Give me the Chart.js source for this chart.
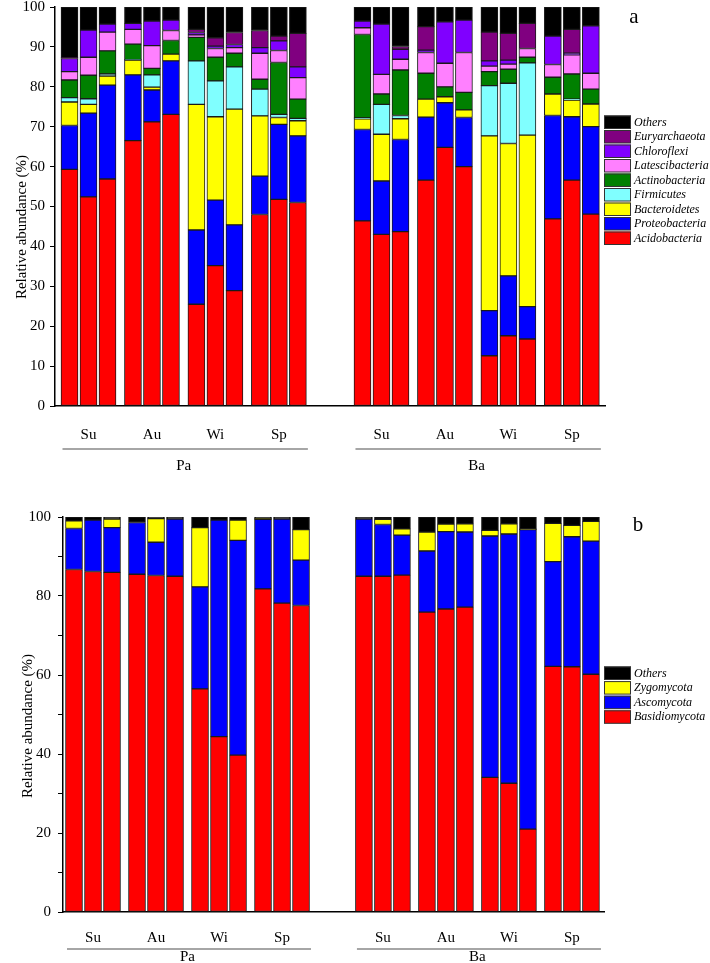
<!DOCTYPE html>
<html>
<head>
<meta charset="utf-8">
<script src="https://cdn.jsdelivr.net/npm/chart.js@4.4.1/dist/chart.umd.min.js"></script>
<style>
    html, body { margin: 0; padding: 0; background: #fff; }
    .panel { position: absolute; left: 0; width: 710px; }
    #panelA { top: 0; height: 490px; }
    #panelB { top: 490px; height: 473px; }
</style>
</head>
<body>
<div class="panel" id="panelA"><canvas id="chartA" width="710" height="490"></canvas></div>
<div class="panel" id="panelB"><canvas id="chartB" width="710" height="473"></canvas></div>
<script>
// =============================================
// Data (relative abundance, %)
// order of each array: Pa Su1-3, Au1-3, Wi1-3, Sp1-3, Ba Su1-3, Au1-3, Wi1-3, Sp1-3
// =============================================
const GROUPS = ['Pa', 'Ba'];
const SEASONS = ['Su', 'Au', 'Wi', 'Sp'];
const REPLICATES = 3;

// (a) bacteria
const acidobacteria   = [59.3, 52.4, 56.9, 66.5, 71.2, 73.1, 25.5, 35.2, 28.9, 48.0, 51.8, 51.0, 46.4, 43.0, 43.7, 56.6, 64.8, 60.0, 12.6, 17.6, 16.8, 46.9, 56.6, 48.1];
const proteobacteria  = [11.0, 21.0, 23.5, 16.5, 8.0, 13.4, 18.6, 16.4, 16.5, 9.6, 18.8, 16.7, 22.9, 13.4, 23.1, 15.8, 11.2, 12.3, 11.3, 15.0, 8.1, 25.9, 15.9, 21.9];
const bacteroidetes   = [5.9, 2.2, 2.3, 3.7, 0.7, 1.7, 31.5, 20.9, 29.0, 15.1, 1.7, 3.8, 2.7, 11.7, 5.2, 4.5, 1.5, 1.9, 43.8, 33.2, 43.0, 5.4, 4.2, 5.7];
const firmicutes      = [1.1, 1.4, 0.5, 0.1, 3.1, 0, 10.9, 9.0, 10.6, 6.7, 0.8, 0.6, 0.2, 7.5, 0.8, 0, 0, 0, 12.6, 15.1, 18.1, 0, 0.2, 0];
const actinobacteria  = [4.4, 5.9, 5.8, 3.9, 1.6, 3.4, 5.9, 5.9, 3.4, 2.5, 13.0, 4.8, 20.9, 2.6, 11.4, 6.5, 2.5, 4.4, 3.5, 3.5, 1.4, 4.2, 6.3, 3.7];
const latescibacteria = [2.1, 4.5, 4.7, 3.7, 5.7, 2.5, 0.6, 2.2, 1.4, 6.5, 3.0, 5.4, 1.7, 4.9, 2.7, 5.2, 5.9, 10.0, 1.4, 1.3, 2.2, 3.2, 4.8, 4.0];
const chloroflexi     = [3.3, 6.8, 2.0, 1.5, 6.2, 2.6, 0.6, 0.6, 0.8, 1.4, 2.4, 2.7, 1.7, 12.6, 2.5, 0.6, 10.4, 8.1, 1.3, 1.0, 0, 7.1, 0.4, 11.9];
const euryarchaeota   = [0.2, 0, 0, 0, 0, 0, 0.8, 2.1, 3.0, 4.3, 1.2, 8.4, 0, 0, 0.7, 5.9, 0, 0, 7.2, 6.7, 6.3, 0, 6.0, 0];
const bacteriaOthers  = [12.7, 5.8, 4.3, 4.1, 3.5, 3.3, 5.6, 7.7, 6.4, 5.9, 7.3, 6.6, 3.5, 4.3, 9.9, 4.9, 3.7, 3.3, 6.3, 6.6, 4.1, 7.3, 5.6, 4.7];

// (b) fungi
const basidiomycota = [86.7, 86.2, 86.0, 85.5, 85.2, 85.0, 56.5, 44.4, 39.7, 81.8, 78.2, 77.6, 85.0, 85.0, 85.3, 75.9, 76.7, 77.2, 34.1, 32.6, 21.0, 62.2, 62.1, 60.2];
const ascomycota    = [10.4, 13.0, 11.3, 13.1, 8.4, 14.5, 25.8, 54.8, 54.4, 17.6, 21.3, 11.5, 14.5, 13.1, 10.1, 15.5, 19.6, 19.0, 61.1, 63.1, 75.8, 26.5, 32.9, 33.7];
const zygomycota    = [1.9, 0, 2.2, 0, 6.0, 0, 15.0, 0, 5.1, 0.2, 0, 7.7, 0, 1.3, 1.6, 4.8, 1.9, 2.1, 1.4, 2.6, 0.2, 9.7, 2.9, 5.0];
const fungiOthers   = [1.0, 0.8, 0.5, 1.4, 0.4, 0.5, 2.7, 0.8, 0.8, 0.4, 0.5, 3.2, 0.5, 0.6, 3.0, 3.8, 1.8, 1.7, 3.4, 1.7, 3.0, 1.6, 2.1, 1.1];

const bacteriaSeries = [
    ['Acidobacteria', acidobacteria, '#ff0000'],
    ['Proteobacteria', proteobacteria, '#0000ff'],
    ['Bacteroidetes', bacteroidetes, '#ffff00'],
    ['Firmicutes', firmicutes, '#80ffff'],
    ['Actinobacteria', actinobacteria, '#008000'],
    ['Latescibacteria', latescibacteria, '#ff80ff'],
    ['Chloroflexi', chloroflexi, '#8000ff'],
    ['Euryarchaeota', euryarchaeota, '#800080'],
    ['Others', bacteriaOthers, '#000000']
];
const fungiSeries = [
    ['Basidiomycota', basidiomycota, '#ff0000'],
    ['Ascomycota', ascomycota, '#0000ff'],
    ['Zygomycota', zygomycota, '#ffff00'],
    ['Others', fungiOthers, '#000000']
];

// =============================================
// Layout of each panel (pixels in its own canvas)
// =============================================
const layoutA = {
    letter: 'a', height: 490, axisX: 55, top: 7, bottom: 406, right: 605,
    firstCenter: 69.5, pitch: 19, seasonStep: 3.34, groupStep: 15.42,
    minorStep: 5, majorStep: 10, tickPad: 5, labelPad: 20,
    titleX: 22, titleY: 227, lineY: 449, groupY: 466,
    legendY: 122, legendStep: 14.5, letterX: 634, letterY: 17
};
const layoutB = {
    letter: 'b', height: 473, axisX: 63, top: 27, bottom: 422, right: 604,
    firstCenter: 74, pitch: 19, seasonStep: 3.316, groupStep: 15.26,
    minorStep: 10, majorStep: 20, tickPad: 7, labelPad: 17,
    titleX: 28, titleY: 236, lineY: 459, groupY: 467,
    legendY: 183, legendStep: 14.6, letterX: 638, letterY: 35
};

const SERIF = "'Liberation Serif', 'Times New Roman', serif";

const barPos = (L, g, s, r) => g * L.groupStep + s * L.seasonStep + r;

const makePanel = (canvasId, series, L) => {
    const positions = [];
    const seasonCenters = [];
    GROUPS.forEach((g, gi) => SEASONS.forEach((s, si) => {
        for (let r = 0; r < REPLICATES; r++) positions.push(barPos(L, gi, si, r));
        seasonCenters.push(barPos(L, gi, si, 1));
    }));

    const datasets = series.map(([label, values, color]) => ({
        label,
        data: values.map((v, i) => ({ x: positions[i], y: v })),
        backgroundColor: color,
        borderColor: '#1a1a1a',
        borderWidth: 1,
        borderSkipped: false,
        barThickness: 17
    }));

    // y title, group labels, legend, panel letter
    const decor = {
        id: 'decor',
        afterDraw(chart) {
            const ctx = chart.ctx;
            const xs = chart.scales.x;
            ctx.save();
            ctx.fillStyle = '#000';
            ctx.font = `15px ${SERIF}`;
            ctx.textAlign = 'center';
            ctx.textBaseline = 'middle';

            ctx.save();
            ctx.translate(L.titleX, L.titleY);
            ctx.rotate(-Math.PI / 2);
            ctx.fillText('Relative abundance (%)', 0, 0);
            ctx.restore();

            GROUPS.forEach((g, gi) => {
                const first = xs.getPixelForValue(barPos(L, gi, 0, 0));
                const last = xs.getPixelForValue(barPos(L, gi, 3, 2));
                ctx.strokeStyle = '#888';
                ctx.lineWidth = 1.5;
                ctx.beginPath();
                ctx.moveTo(first - 7, L.lineY);
                ctx.lineTo(last + 10, L.lineY);
                ctx.stroke();
                ctx.fillText(g, (first + last) / 2, L.groupY);
            });

            ctx.font = `21px ${SERIF}`;
            ctx.fillText(L.letter, L.letterX, L.letterY);

            ctx.textAlign = 'left';
            ctx.font = `italic 12px ${SERIF}`;
            series.slice().reverse().forEach(([label, , color], i) => {
                const y = L.legendY + i * L.legendStep;
                ctx.fillStyle = color;
                ctx.fillRect(604, y - 6.5, 27, 13);
                ctx.strokeStyle = '#333';
                ctx.lineWidth = 1;
                ctx.strokeRect(604.5, y - 6, 26, 12.5);
                ctx.fillStyle = '#000';
                ctx.fillText(label, 634, y + 0.5);
            });
            ctx.restore();
        }
    };

    const font = { family: SERIF, size: 15 };

    return new Chart(document.getElementById(canvasId), {
        type: 'bar',
        data: { datasets },
        options: {
            responsive: false,
            animation: false,
            layout: { padding: { top: L.top, right: 710 - L.right, left: 0, bottom: 0 } },
            plugins: { legend: { display: false }, tooltip: { enabled: false } },
            scales: {
                x: {
                    type: 'linear',
                    stacked: true,
                    offset: false,
                    min: (L.axisX - L.firstCenter) / L.pitch,
                    max: (L.right - L.firstCenter) / L.pitch,
                    grid: { display: false, drawTicks: false, offset: false },
                    border: { display: true, color: '#000', width: 1.5 },
                    ticks: {
                        autoSkip: false, maxRotation: 0, padding: L.labelPad,
                        color: '#000', font,
                        callback: (v, i) => SEASONS[i % SEASONS.length]
                    },
                    afterBuildTicks: s => { s.ticks = seasonCenters.map(v => ({ value: v })); },
                    afterFit: s => {
                        s.height = L.height - L.bottom;
                        s.paddingLeft = 0; s.paddingRight = 0;
                    }
                },
                y: {
                    stacked: true,
                    min: 0,
                    max: 100,
                    grid: { display: true, drawOnChartArea: false, drawTicks: true, tickLength: 5, color: '#000', lineWidth: 1 },
                    border: { display: true, color: '#000', width: 1.5 },
                    ticks: {
                        stepSize: L.minorStep, padding: L.tickPad, color: '#000', font,
                        callback: v => (v % L.majorStep === 0 ? v : '')
                    },
                    afterFit: s => {
                        s.width = L.axisX;
                        s.paddingTop = 0; s.paddingBottom = 0;
                    }
                }
            }
        },
        plugins: [decor]
    });
};

document.addEventListener('DOMContentLoaded', () => {
    makePanel('chartA', bacteriaSeries, layoutA);
    makePanel('chartB', fungiSeries, layoutB);
});
</script>
</body>
</html>
